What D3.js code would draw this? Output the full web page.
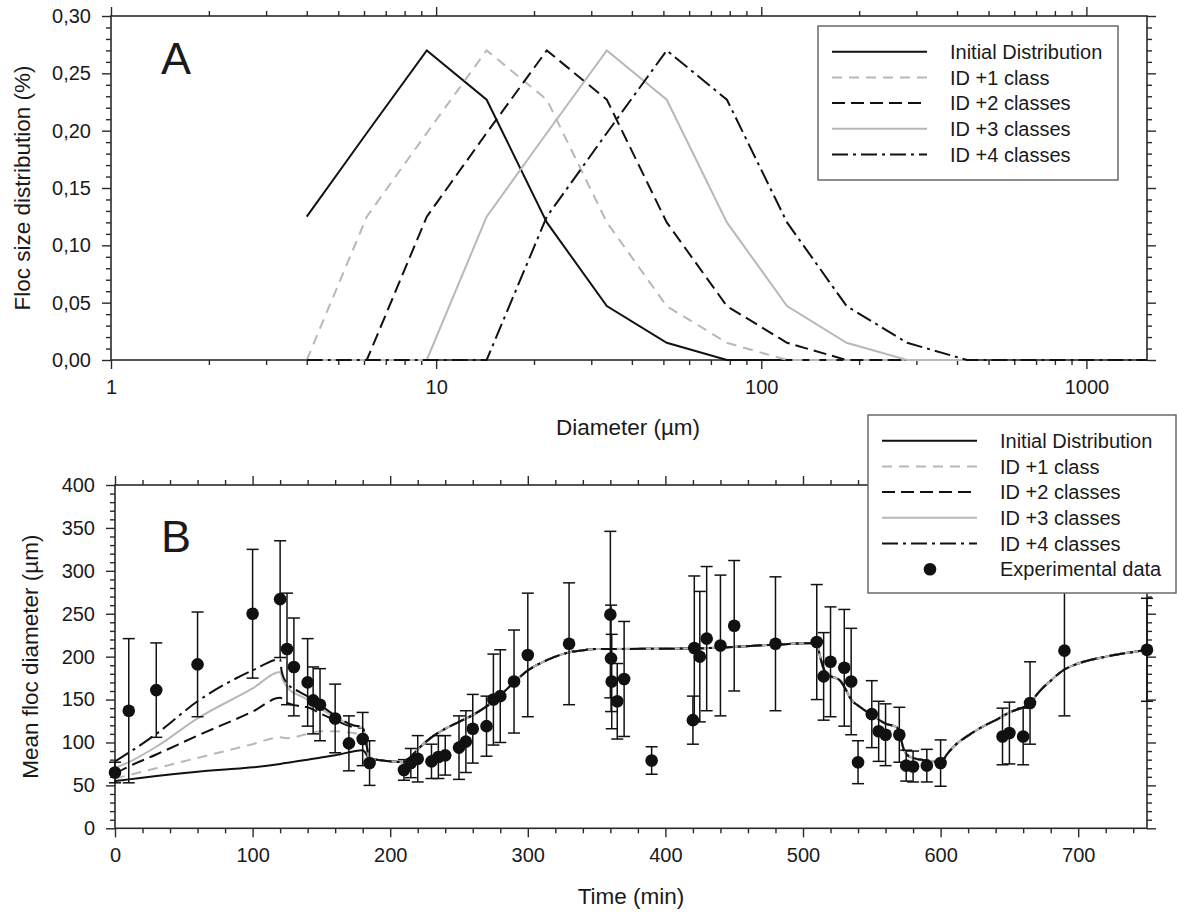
<!DOCTYPE html>
<html>
<head>
<meta charset="utf-8">
<script src="https://cdn.jsdelivr.net/npm/d3@7"></script>
<style>
  body { margin: 0; background: #fff; }
  svg text { font-family: "Liberation Sans", Arial, sans-serif; fill: #1a1a1a; }
</style>
</head>
<body>
<div id="chart"></div>
<script>
// ---- Panel A: floc size distributions (class diameters in µm)
const diameters = [4, 6.12, 9.36, 14.3, 21.9, 33.5, 51.2, 78.4, 120, 183, 281, 429, 657, 1004, 1536];
const distInitial = [0.125, 0.198, 0.27, 0.227, 0.12, 0.047, 0.015, 0, 0, 0, null, null, null, null, null];
const distId1 = [0, 0.125, 0.198, 0.27, 0.227, 0.12, 0.047, 0.015, 0, 0, 0, null, null, null, null];
const distId2 = [0, 0, 0.125, 0.198, 0.27, 0.227, 0.12, 0.047, 0.015, 0, 0, 0, null, null, null];
const distId3 = [0, 0, 0, 0.125, 0.198, 0.27, 0.227, 0.12, 0.047, 0.015, 0, 0, null, null, null];
const distId4 = [0, 0, 0, 0, 0.125, 0.198, 0.27, 0.227, 0.12, 0.047, 0.015, 0, 0, 0, 0];

// ---- Panel B: model curves (time in min, mean diameter in µm)
const bInitT = [0, 10, 30, 60, 100, 120, 140, 160, 180, 182];
const bInitV = [55, 57, 61, 66, 71, 75, 80, 85, 91, 88];
const bId1T = [0, 10, 30, 60, 100, 120, 125, 140, 150, 160, 173, 180, 182];
const bId1V = [58, 62, 70, 82, 98, 106, 105, 110, 113, 113, 111, 109, 100];
const bId2T = [0, 10, 30, 60, 100, 120, 125, 132, 140, 149, 160, 173, 180, 182];
const bId2V = [64, 72, 86, 108, 136, 152, 146, 143, 141, 134, 126, 118, 117, 105];
const bId3T = [0, 10, 30, 60, 100, 120, 122, 127, 134, 140, 149, 160, 173, 180, 182];
const bId3V = [70, 77, 95, 128, 163, 182, 173, 161, 155, 150, 140, 129, 120, 117, 105];
const bId4T = [0, 10, 30, 60, 100, 120, 121, 125, 134, 144, 154, 163, 173, 180, 182];
const bId4V = [78, 88, 110, 148, 184, 197, 184, 169, 159, 150, 138, 128, 120, 118, 105];
// after ~185 min all five curves coincide
const bTailT = [185, 190, 200, 210, 213, 217, 220, 230, 240, 250, 260, 270, 280, 290, 300, 310, 320, 330, 340, 350, 360,
  420, 480, 510, 512, 515, 517, 527, 531, 535, 541, 550, 560, 568, 570, 573, 576, 580, 590, 600,
  605, 610, 620, 630, 640, 650, 660, 665, 670, 680, 690, 700, 720, 740, 750];
const bTailV = [81, 80, 78, 77, 80, 87, 92, 106, 116, 124, 132, 142, 155, 170, 184, 193, 200, 205, 207.5, 209, 209,
  209.5, 214, 216, 203, 186, 180, 172, 162, 150, 142, 132, 122, 118, 112, 93, 85, 82, 79, 77,
  87, 96, 108, 118, 126, 135, 141, 145, 156, 172, 185, 192, 200, 205.5, 208];

// experimental data: mean and standard deviation
const expTime = [0, 10, 30, 60, 100, 120, 125, 130, 140, 144, 149, 160, 170, 180, 185,
  210, 215, 220, 230, 235, 240, 250, 255, 260, 270, 275, 280, 290, 300, 330,
  360, 360.5, 361, 365, 370, 390, 420, 421, 425, 430, 440, 450, 480,
  510, 515, 520, 530, 535, 540, 550, 555, 560, 570, 575, 580, 590, 600,
  645, 650, 660, 665, 690, 750];
const expMean = [65, 137, 161, 191, 250, 267, 209, 188, 170, 149, 144, 128, 99, 104, 76,
  68, 76, 81, 78, 83, 85, 94, 101, 116, 119, 150, 154, 171, 202, 215,
  249, 198, 171, 148, 174, 79, 126, 210, 200, 221, 213, 236, 215,
  217, 177, 194, 187, 171, 77, 133, 113, 109, 109, 73, 72, 73, 76,
  107, 111, 107, 146, 207, 208];
const expSd = [12, 84, 55, 61, 75, 68, 65, 57, 51, 39, 42, 40, 32, 31, 26,
  12, 17, 27, 20, 25, 23, 37, 36, 40, 35, 53, 54, 60, 72, 71,
  97, 62, 55, 44, 67, 16, 28, 84, 76, 84, 82, 76, 78,
  67, 51, 64, 68, 62, 25, 39, 35, 36, 32, 18, 18, 19, 27,
  33, 36, 33, 48, 76, 60];

const seriesNames = ['Initial Distribution', 'ID +1 class', 'ID +2 classes', 'ID +3 classes', 'ID +4 classes'];
const seriesStyle = [
  { color: '#111', dash: null },
  { color: '#b8b8b8', dash: '10,7' },
  { color: '#111', dash: '13,6' },
  { color: '#b8b8b8', dash: null },
  { color: '#111', dash: '16,5,3,5' }
];

const W = 1177, H = 919;
const svg = d3.select('#chart').append('svg').attr('width', W).attr('height', H);

const AXIS = '#2a2a2a';

function drawFrame(g, x, y, w, h, xMajor, xMinor, yMajor, yMinor, xFmt, yFmt) {
  const ax = (gen, tr, vals, size, fmt) => {
    const a = g.append('g').attr('transform', tr)
      .call(gen.tickValues(vals).tickSize(size).tickSizeOuter(0).tickPadding(11).tickFormat(fmt || (() => '')));
    a.select('.domain').remove();
    a.selectAll('line').attr('stroke', AXIS).attr('stroke-width', 1.4);
    a.selectAll('text').style('font-size', '20px').attr('fill', '#1a1a1a');
    return a;
  };
  ax(d3.axisBottom(x), `translate(0,${h})`, xMajor, 9, xFmt);
  ax(d3.axisBottom(x), `translate(0,${h})`, xMinor, 5);
  ax(d3.axisTop(x), 'translate(0,0)', xMajor, 9);
  ax(d3.axisTop(x), 'translate(0,0)', xMinor, 5);
  ax(d3.axisLeft(y), 'translate(0,0)', yMajor, 9, yFmt);
  ax(d3.axisLeft(y), 'translate(0,0)', yMinor, 5);
  ax(d3.axisRight(y), `translate(${w},0)`, yMajor, 9);
  ax(d3.axisRight(y), `translate(${w},0)`, yMinor, 5);
  g.append('rect').attr('width', w).attr('height', h)
    .attr('fill', 'none').attr('stroke', AXIS).attr('stroke-width', 1.6);
}

function drawLegend(g, x0, y0, w, h, rows, withMarker) {
  g.append('rect').attr('x', x0).attr('y', y0).attr('width', w).attr('height', h)
    .attr('fill', '#fff').attr('stroke', '#6a6a6a').attr('stroke-width', 1.5);
  seriesNames.forEach((name, i) => {
    const ry = rows[0] + i * 25.7;
    g.append('line').attr('x1', x0 + 14).attr('x2', x0 + 109).attr('y1', ry).attr('y2', ry)
      .attr('stroke', seriesStyle[i].color).attr('stroke-width', 2)
      .attr('stroke-dasharray', seriesStyle[i].dash);
    g.append('text').attr('x', x0 + 132).attr('y', ry).attr('dy', '0.36em')
      .style('font-size', '20px').text(name);
  });
  if (withMarker) {
    const ry = rows[0] + 5 * 25.7;
    g.append('circle').attr('cx', x0 + 62).attr('cy', ry).attr('r', 6.3).attr('fill', '#111');
    g.append('text').attr('x', x0 + 132).attr('y', ry).attr('dy', '0.36em')
      .style('font-size', '20px').text('Experimental data');
  }
}

// ================= Panel A =================
{
  const left = 111, top = 16, w = 1036, h = 344;
  const g = svg.append('g').attr('transform', `translate(${left},${top})`);
  const x = d3.scaleLog().domain([1, 1536]).range([0, w]);
  const y = d3.scaleLinear().domain([0, 0.30]).range([h, 0]);

  const xMajor = [1, 10, 100, 1000];
  const xMinor = [];
  [1, 10, 100, 1000].forEach(dec => { for (let m = 2; m <= 9; m++) if (dec * m <= 1536) xMinor.push(dec * m); });
  const yMajor = d3.range(0, 0.3001, 0.05);
  const yMinor = d3.range(0, 0.3001, 0.01).filter(v => Math.abs(v / 0.05 - Math.round(v / 0.05)) > 1e-6);

  drawFrame(g, x, y, w, h, xMajor, xMinor, yMajor, yMinor,
    d => String(d), d => d.toFixed(2).replace('.', ','));

  const dists = [distInitial, distId1, distId2, distId3, distId4];
  const line = d3.line().defined(d => d[1] != null).x(d => x(d[0])).y(d => y(d[1]));
  dists.forEach((vals, i) => {
    g.append('path').datum(diameters.map((dm, k) => [dm, vals[k]]))
      .attr('d', line).attr('fill', 'none')
      .attr('stroke', seriesStyle[i].color).attr('stroke-width', 2)
      .attr('stroke-dasharray', seriesStyle[i].dash);
  });

  g.append('text').attr('x', 50).attr('y', 58).style('font-size', '45px').text('A');

  svg.append('text').attr('x', 628).attr('y', 435).attr('text-anchor', 'middle')
    .style('font-size', '22.5px').text('Diameter (µm)');
  svg.append('text').attr('transform', `translate(30,${top + h / 2}) rotate(-90)`)
    .attr('text-anchor', 'middle').style('font-size', '22.5px').text('Floc size distribution (%)');

  drawLegend(svg, 818, 26, 300, 154, [51.7], false);
}

// ================= Panel B =================
{
  const left = 115, top = 485, w = 1032, h = 343.3;
  const g = svg.append('g').attr('transform', `translate(${left},${top})`);
  const x = d3.scaleLinear().domain([0, 750]).range([0, w]);
  const y = d3.scaleLinear().domain([0, 400]).range([h, 0]);

  const xMajor = d3.range(0, 701, 100);
  const xMinor = d3.range(20, 750, 20).filter(v => v % 100 !== 0);
  const yMajor = d3.range(0, 401, 50);
  const yMinor = d3.range(10, 400, 10).filter(v => v % 50 !== 0);

  drawFrame(g, x, y, w, h, xMajor, xMinor, yMajor, yMinor, d => String(d), d => String(d));

  const early = [[bInitT, bInitV], [bId1T, bId1V], [bId2T, bId2V], [bId3T, bId3V], [bId4T, bId4V]];
  const line = d3.line().x(d => x(d[0])).y(d => y(d[1])).curve(d3.curveMonotoneX);
  early.forEach(([ts, vs], i) => {
    const pts = ts.map((t, k) => [t, vs[k]]).concat(bTailT.map((t, k) => [t, bTailV[k]]));
    g.append('path').datum(pts).attr('d', line).attr('fill', 'none')
      .attr('stroke', seriesStyle[i].color).attr('stroke-width', 2)
      .attr('stroke-dasharray', seriesStyle[i].dash);
  });

  // error bars + markers
  const eb = g.append('g').attr('stroke', '#111').attr('stroke-width', 1.5);
  expTime.forEach((t, k) => {
    const cx = x(t), lo = y(expMean[k] - expSd[k]), hi = y(expMean[k] + expSd[k]);
    eb.append('line').attr('x1', cx).attr('x2', cx).attr('y1', lo).attr('y2', hi);
    eb.append('line').attr('x1', cx - 6).attr('x2', cx + 6).attr('y1', lo).attr('y2', lo);
    eb.append('line').attr('x1', cx - 6).attr('x2', cx + 6).attr('y1', hi).attr('y2', hi);
  });
  g.append('g').selectAll('circle').data(expTime).join('circle')
    .attr('cx', d => x(d)).attr('cy', (d, k) => y(expMean[k])).attr('r', 6.3).attr('fill', '#111');

  g.append('text').attr('x', 46).attr('y', 67).style('font-size', '45px').text('B');

  svg.append('text').attr('x', 631).attr('y', 904).attr('text-anchor', 'middle')
    .style('font-size', '22.5px').text('Time (min)');
  svg.append('text').attr('transform', `translate(38,${top + h / 2}) rotate(-90)`)
    .attr('text-anchor', 'middle').style('font-size', '22.5px').text('Mean floc diameter (µm)');

  drawLegend(svg, 868, 415, 308, 178, [440.7], true);
}
</script>
</body>
</html>
